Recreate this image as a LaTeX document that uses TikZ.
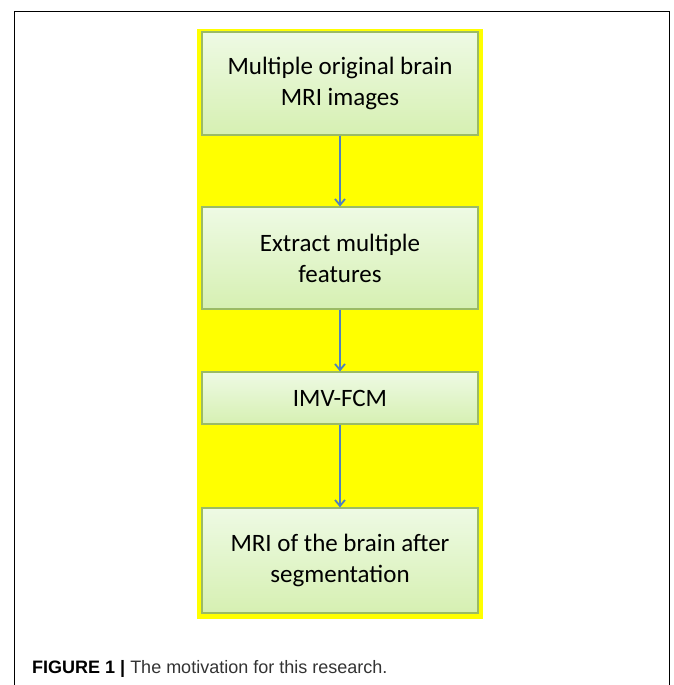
\documentclass[tikz,border=0pt]{standalone}
\usepackage{fontspec}
\setmainfont{Carlito}
\newfontfamily\capfont{Liberation Sans}
\usetikzlibrary{arrows.meta, positioning}
\definecolor{boxtop}{RGB}{238, 250, 228}
\definecolor{boxbot}{RGB}{214, 240, 178}
\definecolor{boxline}{RGB}{155, 187, 100}
\definecolor{flowblue}{RGB}{79, 129, 189}
\definecolor{bgyellow}{RGB}{255, 255, 0}

\begin{document}
\begin{tikzpicture}[x=1pt, y=-1pt,
  stepbox/.style={draw=boxline, line width=1.2pt, top color=boxtop, bottom color=boxbot,
    minimum width=276pt, align=center, inner sep=0pt, font=\fontsize{25}{31}\selectfont},
  flow/.style={draw=flowblue, line width=1.8pt, -{Straight Barb[length=6pt, width=10pt]}}
]
  \useasboundingbox (0,0) rectangle (673,685);
  % frame, open at the bottom
  \draw[line width=0.8pt] (14,685) -- (14,11) -- (669,11) -- (669,685);
  % yellow panel
  \fill[bgyellow] (197,29) rectangle (483,619);

  \node[stepbox, minimum height=103pt] (orig) at (340,83.5) {Multiple original brain\\MRI images};
  \node[stepbox, minimum height=102pt] (feat) at (340,258) {Extract multiple\\features};
  \node[stepbox, minimum height=52pt] (fcm) at (340,398) {IMV-FCM};
  \node[stepbox, minimum height=105pt] (seg) at (340,560.5) {MRI of the brain after\\segmentation};

  \draw[flow] (orig) -- (feat);
  \draw[flow] (feat) -- (fcm);
  \draw[flow] (fcm) -- (seg);

  \node[anchor=base west, inner sep=0pt, font=\capfont\fontsize{18}{20}\selectfont] (cap) at (32,673)
    {\textbf{FIGURE 1 |} \color{black!80}The motivation for this research.};
\end{tikzpicture}
\end{document}
